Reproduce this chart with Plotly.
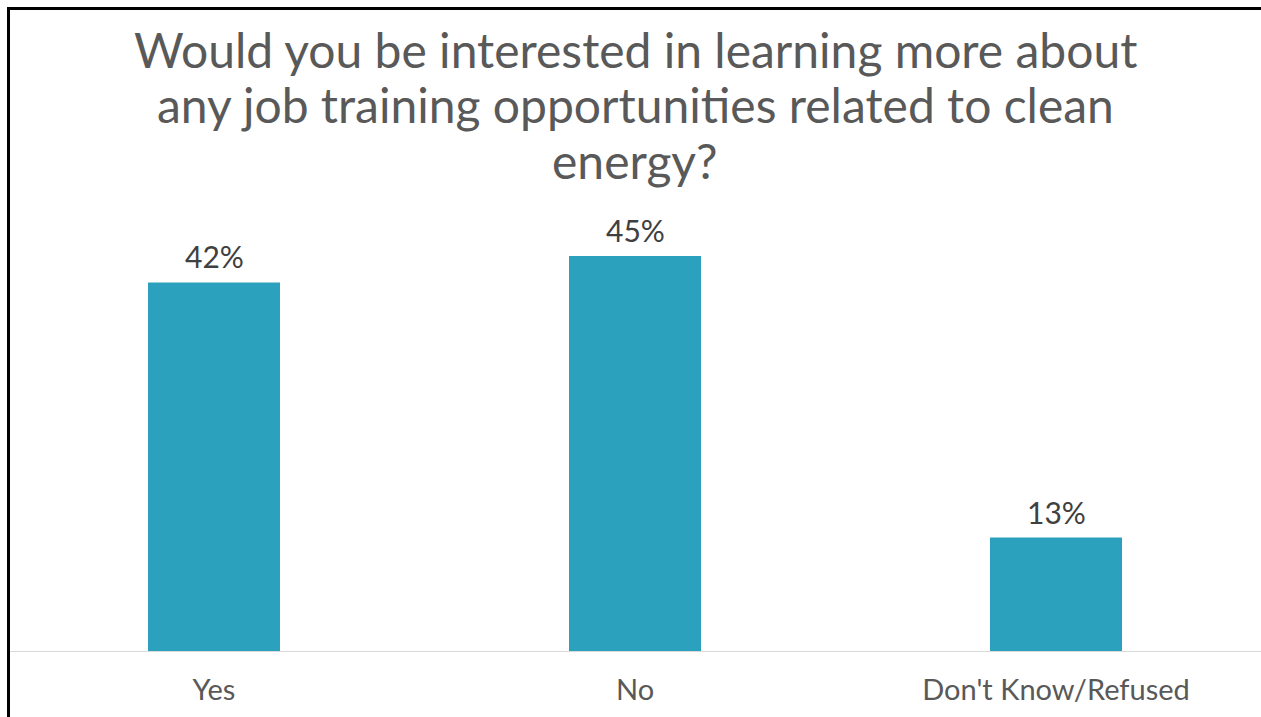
import plotly.graph_objects as go

categories = ["Yes", "No", "Don't Know/Refused"]
values = [42, 45, 13]
labels = ["42%", "45%", "13%"]
title_lines = [
    "Would you be interested in learning more about",
    "any job training opportunities related to clean",
    "energy?",
]

W, H = 1261, 717
L, R, T, B = 10, 0, 200, 65
plot_w = W - L - R
plot_h = H - T - B
px_per_cat = 421.0
px_per_pct = 8.8
x0 = -(214 - L) / px_per_cat
x1 = x0 + plot_w / px_per_cat
ymax = plot_h / px_per_pct

FONT = "Lato, sans-serif"

fig = go.Figure(go.Bar(
    x=list(range(len(categories))), y=values,
    marker=dict(color="#2CA1BE", line=dict(width=0)),
    width=132 / px_per_cat, cliponaxis=False,
))

annotations = []
for i, (v, t) in enumerate(zip(values, labels)):
    annotations.append(dict(
        x=i, y=v, xref="x", yref="y", text=t, showarrow=False,
        yanchor="bottom", yshift=6,
        font=dict(family=FONT, size=30, color="#404040"),
    ))

title_centers = [49, 105, 161]
for line, yc in zip(title_lines, title_centers):
    annotations.append(dict(
        x=(635 - L) / plot_w, xref="paper", xanchor="center",
        y=1 + (T - yc) / plot_h, yref="paper", yanchor="middle",
        text=line, showarrow=False,
        font=dict(family=FONT, size=48, color="#595959"),
    ))

fig.update_layout(
    width=W, height=H,
    margin=dict(l=L, r=R, t=T, b=B, pad=0),
    paper_bgcolor="white", plot_bgcolor="white",
    showlegend=False,
    annotations=annotations,
    xaxis=dict(
        tickmode="array", tickvals=list(range(len(categories))), ticktext=categories,
        range=[x0, x1], showgrid=False, zeroline=False, showline=False, ticks="",
        ticklabelstandoff=18,
        tickfont=dict(family=FONT, size=29, color="#595959"),
    ),
    yaxis=dict(range=[0, ymax], visible=False, showgrid=False, zeroline=False),
    shapes=[
        dict(type="line", xref="paper", yref="y", x0=0, x1=1, y0=0, y1=0,
             line=dict(color="#D9D9D9", width=2)),
        dict(type="line", xref="paper", yref="paper",
             x0=-(L - 8.5) / plot_w, x1=-(L - 8.5) / plot_w,
             y0=-B / plot_h, y1=1 + (T - 8.5) / plot_h,
             line=dict(color="black", width=3)),
        dict(type="line", xref="paper", yref="paper",
             x0=-(L - 7) / plot_w, x1=1,
             y0=1 + (T - 8.5) / plot_h, y1=1 + (T - 8.5) / plot_h,
             line=dict(color="black", width=3)),
    ],
)

fig.write_html("out.html", config={"displayModeBar": False},
               post_script="document.body.style.margin='0';")
